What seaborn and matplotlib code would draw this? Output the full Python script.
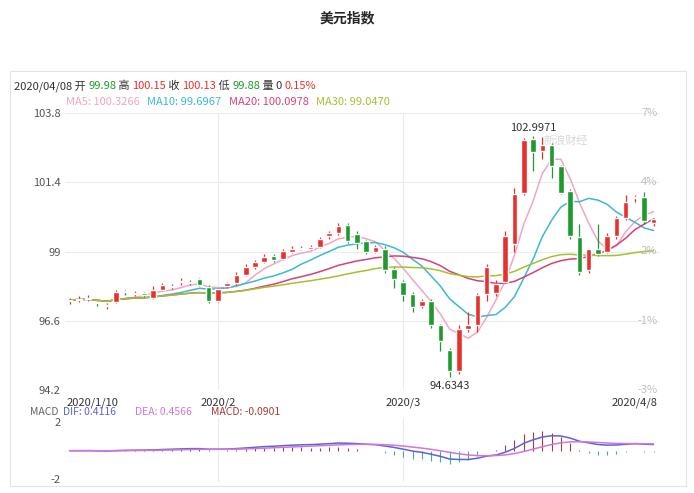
import numpy as np
import pandas as pd
import matplotlib
matplotlib.use('Agg')
import matplotlib.pyplot as plt
import seaborn as sns

# daily OHLC (64 sessions, 2020/1/10 .. 2020/4/8)
opens = [97.28, 97.33, 97.34, 97.25, 97.10, 97.25, 97.62, 97.52, 97.55, 97.40,
         97.67, 97.78, 97.93, 97.90, 98.03, 97.77, 97.30, 97.80, 97.90, 98.20,
         98.45, 98.65, 98.84, 98.75, 99.00, 99.08, 99.10, 99.17, 99.52, 99.63,
         99.93, 99.60, 99.35, 99.00, 99.10, 98.40, 97.95, 97.53, 97.10, 97.30,
         96.44, 95.60, 94.86, 96.33, 96.47, 97.53, 97.56, 97.95, 99.25, 101.04,
         102.90, 102.50, 102.68, 101.98, 101.10, 99.50, 98.37, 99.10, 99.00, 99.53,
         100.16, 100.84, 100.90, 99.98]
closes = [97.32, 97.35, 97.36, 97.20, 97.14, 97.60, 97.58, 97.53, 97.50, 97.65,
          97.84, 97.80, 97.95, 97.95, 97.85, 97.30, 97.70, 97.90, 98.20, 98.45,
          98.65, 98.82, 98.70, 99.00, 99.10, 99.10, 99.12, 99.45, 99.63, 99.90,
          99.38, 99.28, 99.00, 99.14, 98.37, 98.05, 97.50, 97.07, 97.28, 96.44,
          95.90, 94.86, 96.30, 96.47, 97.50, 98.47, 97.88, 99.53, 101.00, 102.85,
          102.45, 102.68, 101.98, 101.03, 99.53, 98.30, 99.07, 98.93, 99.53, 100.16,
          100.70, 100.87, 100.05, 100.13]
highs = [97.40, 97.45, 97.50, 97.30, 97.20, 97.65, 97.68, 97.62, 97.58, 97.80,
         97.90, 97.88, 98.08, 98.02, 98.08, 97.85, 97.75, 97.95, 98.28, 98.55,
         98.72, 98.90, 98.90, 99.08, 99.18, 99.18, 99.22, 99.50, 99.72, 99.98,
         100.00, 99.70, 99.40, 99.22, 99.18, 98.45, 98.00, 97.60, 97.35, 97.35,
         96.50, 95.65, 96.45, 96.90, 97.55, 98.55, 98.00, 99.70, 101.20, 102.95,
         102.9971, 102.97, 102.75, 102.00, 101.15, 99.95, 99.10, 99.95, 99.65, 100.22,
         100.95, 100.95, 101.05, 100.15]
lows = [97.18, 97.25, 97.28, 97.10, 97.00, 97.20, 97.50, 97.45, 97.42, 97.35,
        97.62, 97.70, 97.85, 97.85, 97.80, 97.20, 97.25, 97.75, 97.85, 98.15,
        98.40, 98.60, 98.65, 98.70, 98.95, 99.05, 99.05, 99.12, 99.45, 99.58,
        99.30, 99.10, 98.90, 98.95, 98.25, 97.75, 97.30, 96.90, 97.05, 96.35,
        95.55, 94.6343, 94.75, 96.20, 96.20, 97.30, 97.45, 97.90, 99.00, 100.95,
        101.80, 102.20, 101.55, 101.00, 99.45, 98.20, 98.25, 98.85, 98.95, 99.45,
        100.10, 100.70, 99.95, 99.88]

y_ticks = [94.2, 96.6, 99, 101.4, 103.8]
y_tick_labels = ['94.2', '96.6', '99', '101.4', '103.8']
pct_labels = ['-3%', '-1%', '2%', '4%', '7%']
date_ticks = [0, 16, 36, 63]
date_labels = ['2020/1/10', '2020/2', '2020/3', '2020/4/8']

UP = '#e8302c'
DOWN = '#1f9a2c'
MA_COLORS = {'MA5': '#f2a6c4', 'MA10': '#3db8d4', 'MA20': '#d8407a', 'MA30': '#a6c030'}

df = pd.DataFrame({'open': opens, 'high': highs, 'low': lows, 'close': closes})
df['idx'] = np.arange(len(df))
for n in (5, 10, 20, 30):
    df[f'MA{n}'] = df['close'].rolling(n, min_periods=1).mean()
ema12 = df['close'].ewm(span=12, adjust=False).mean()
ema26 = df['close'].ewm(span=26, adjust=False).mean()
df['DIF'] = ema12 - ema26
df['DEA'] = df['DIF'].ewm(span=9, adjust=False).mean()
df['MACD'] = 2 * (df['DIF'] - df['DEA'])

sns.set_style('white')
plt.rcParams['font.family'] = ['Noto Sans CJK SC', 'DejaVu Sans']

fig = plt.figure(figsize=(6.94, 4.93), dpi=100)
ax = fig.add_axes([65 / 694, 1 - 390 / 493, 595 / 694, 277 / 493])
axm = fig.add_axes([65 / 694, 1 - 482 / 493, 595 / 694, 64 / 493])

fig.text(0.5, 1 - 18 / 493, '美元指数', ha='center', va='center', fontsize=10, fontweight='bold')
fig.patches.append(plt.Rectangle((10 / 694, 1 - 486 / 493), 676 / 694, 415 / 493,
                                 transform=fig.transFigure, fill=False, ec='#e4e4e4', lw=0.8))


def header(parts, y, x0, size=8):
    # lay coloured text pieces side by side
    x = x0
    r = fig.canvas.get_renderer()
    for txt, col in parts:
        t = fig.text(x, y, txt, color=col, fontsize=size, va='center')
        x += t.get_window_extent(renderer=r).width / fig.bbox.width


header([('2020/04/08 开 ', '#333333'), ('99.98', DOWN), (' 高 ', '#333333'), ('100.15', UP),
        (' 收 ', '#333333'), ('100.13', UP), (' 低 ', '#333333'), ('99.88', DOWN),
        (' 量 0 ', '#333333'), ('0.15%', UP)], 1 - 86 / 493, 14 / 694)
header([('MA5: 100.3266   ', MA_COLORS['MA5']), ('MA10: 99.6967   ', MA_COLORS['MA10']),
        ('MA20: 100.0978   ', MA_COLORS['MA20']), ('MA30: 99.0470', MA_COLORS['MA30'])],
       1 - 102 / 493, 66 / 694)

# candles
colors = [UP if c >= o else DOWN for o, c in zip(df['open'], df['close'])]
ax.vlines(df['idx'], df['low'], df['high'], colors=colors, lw=0.9, zorder=3)
body = (df['close'] - df['open']).abs().clip(lower=0.04)
ax.bar(df['idx'], body, bottom=df[['open', 'close']].min(axis=1), width=0.6,
       color=colors, zorder=4)
for name, col in MA_COLORS.items():
    sns.lineplot(data=df, x='idx', y=name, ax=ax, color=col, lw=1.1, zorder=2)

ax.set_xlim(-0.5, len(df) - 0.3)
ax.set_ylim(94.2, 103.8)
ax.set_yticks(y_ticks)
ax.set_yticklabels(y_tick_labels, fontsize=8, color='#555555')
ax.set_xticks([])
ax.set_xlabel('')
ax.set_ylabel('')
ax.tick_params(length=0, pad=3)
for v in y_ticks:
    ax.axhline(v, color='#ececec', lw=0.8, zorder=0)
for v in date_ticks[1:3]:
    ax.axvline(v, color='#ececec', lw=0.8, zorder=0)
for s in ax.spines.values():
    s.set_visible(False)
for v, lab in zip(y_ticks, pct_labels):
    ax.text(len(df) - 0.6, v, lab, ha='right', va='center', fontsize=8, color='#c0c0c0')

hi = df['high'].idxmax()
lo = df['low'].idxmin()
ax.text(hi, df['high'][hi] + 0.1, f"{df['high'][hi]:.4f}", ha='center', va='bottom', fontsize=8, color='#333333')
ax.text(lo, df['low'][lo] - 0.12, f"{df['low'][lo]:.4f}", ha='center', va='top', fontsize=8, color='#333333')
ax.text(53.5, 102.85, '新浪财经', fontsize=8, color='#d8d8d8', ha='center', va='center', zorder=1)

# dates, between the two panels
for i, (t, lab) in enumerate(zip(date_ticks, date_labels)):
    ha = 'left' if i == 0 else ('right' if i == 3 else 'center')
    x = t - 0.3 if i == 0 else (t + 0.4 if i == 3 else t)
    ax.text(x, 93.95, lab, ha=ha, va='top', fontsize=8, color='#333333', clip_on=False)

# MACD panel
hist_col = ['#a83a3a' if v >= 0 else '#3fb0a0' for v in df['MACD']]
axm.vlines(df['idx'], 0, df['MACD'], colors=hist_col, lw=0.8)
sns.lineplot(data=df, x='idx', y='DIF', ax=axm, color='#5a64d6', lw=1.1)
sns.lineplot(data=df, x='idx', y='DEA', ax=axm, color='#d575d8', lw=1.1)
axm.set_xlim(ax.get_xlim())
axm.set_ylim(-2.2, 2.3)
axm.set_yticks([-2, 2])
axm.set_yticklabels(['-2', '2'], fontsize=8, color='#555555')
axm.set_xticks([])
axm.set_xlabel('')
axm.set_ylabel('')
axm.tick_params(length=0, pad=3)
for v in date_ticks[1:3]:
    axm.axvline(v, color='#ececec', lw=0.8, zorder=0)
for s in axm.spines.values():
    s.set_visible(False)
header([('MACD  ', '#666666'), ('DIF: 0.4116', '#5a64d6'), ('        DEA: 0.4566', '#d575d8'),
        ('        MACD: -0.0901', '#a83a3a')], 1 - 412 / 493, 30 / 694, size=7.5)

fig.savefig('out.png', dpi=100)
